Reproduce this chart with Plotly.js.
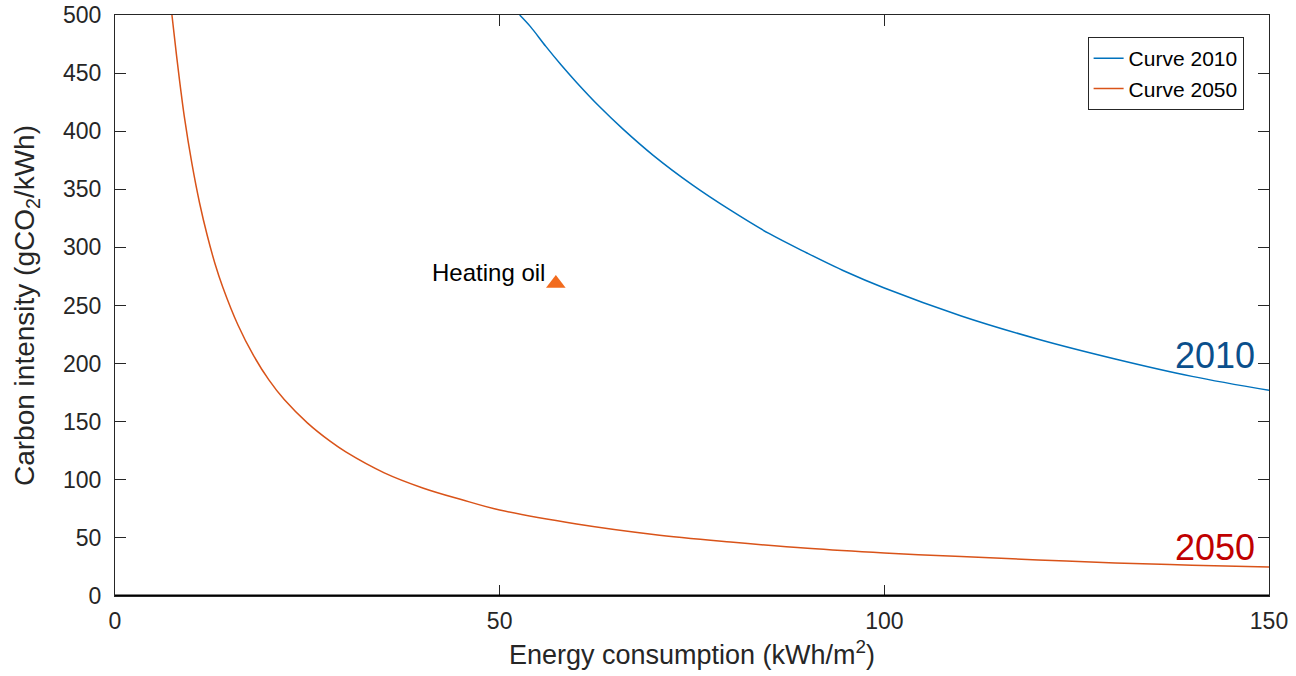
<!DOCTYPE html>
<html>
<head>
<meta charset="utf-8">
<script src="https://cdn.plot.ly/plotly-3.0.1.min.js"></script>
<style>html,body{margin:0;padding:0;background:#fff;}#chart{width:1296px;height:676px;}</style>
</head>
<body>
<div id="chart"></div>
<script>
// Curve 2010
const x2010 = [52.6, 54, 56, 58, 60, 63, 66, 70, 75, 80, 85, 90, 95, 100, 110, 120, 130, 140, 150];
const y2010 = [500, 490, 473, 457, 442, 421, 402, 379, 354, 332, 312, 295, 279, 265, 241, 221, 204, 189, 177];
// Curve 2050
const x2050 = [7.4, 8, 8.5, 9, 10, 11, 12, 13, 14, 16, 18, 20, 22, 25, 28, 30, 35, 40, 45, 50, 60, 70, 80, 90, 100, 110, 120, 130, 140, 150];
const y2050 = [500, 465, 438, 413, 372, 338, 310, 286, 266, 233, 207, 186, 169, 149, 133, 124, 106, 93, 83, 74, 62, 53, 46.5, 41, 37, 34, 31, 28.5, 26.5, 25];
// Heating oil point
const oilX = [57.3];
const oilY = [269];
const xTicks = [0, 50, 100, 150];
const yTicks = [0, 50, 100, 150, 200, 250, 300, 350, 400, 450, 500];

const font = 'Liberation Sans, Arial, Helvetica, sans-serif';
const axisColor = '#262626';

const traces = [
  {x: x2010, y: y2010, mode: 'lines', name: 'Curve 2010', line: {color: '#0072BD', width: 1.5, shape: 'spline'}},
  {x: x2050, y: y2050, mode: 'lines', name: 'Curve 2050', line: {color: '#D95319', width: 1.5, shape: 'spline'}},
  {x: oilX, y: oilY, mode: 'markers', showlegend: false, marker: {symbol: 'triangle-up', size: 17, color: '#F26B1D'}}
];

const axisCommon = {
  showline: true, mirror: 'ticks', linecolor: axisColor, linewidth: 1,
  ticks: 'inside', ticklen: 11, tickcolor: axisColor, tickwidth: 1,
  showgrid: false, zeroline: false,
  tickfont: {family: font, size: 23, color: axisColor}
};

const layout = {
  width: 1296, height: 676,
  margin: {l: 115, r: 27, t: 15, b: 80},
  paper_bgcolor: '#fff', plot_bgcolor: '#fff',
  font: {family: font, color: axisColor},
  xaxis: Object.assign({}, axisCommon, {
    range: [0, 150], tickvals: xTicks, ticktext: xTicks.map(String),
    ticklabelstandoff: 4,
    title: {text: 'Energy consumption (kWh/m<sup>2</sup>)', font: {family: font, size: 27, color: axisColor}, standoff: 12}
  }),
  yaxis: Object.assign({}, axisCommon, {
    range: [0, 500], tickvals: yTicks, ticktext: yTicks.map(String),
    ticklabelstandoff: 8,
    title: {text: 'Carbon intensity (gCO<sub>2</sub>/kWh)', font: {family: font, size: 28, color: axisColor}, standoff: 20}
  }),
  legend: {
    x: 0.978, y: 0.962, xanchor: 'right', yanchor: 'top',
    bgcolor: '#fff', bordercolor: axisColor, borderwidth: 1,
    font: {family: font, size: 21, color: '#000'},
    tracegroupgap: 0
  },
  shapes: [
    {type: 'line', xref: 'paper', yref: 'y', x0: 0, x1: 1, y0: 0, y1: 0, line: {color: '#000', width: 3}}
  ],
  annotations: [
    {x: 56.2, y: 278, xref: 'x', yref: 'y', text: 'Heating oil', showarrow: false, xanchor: 'right', yanchor: 'middle',
     font: {family: font, size: 24, color: '#000'}},
    {x: 148.5, y: 207, xref: 'x', yref: 'y', text: '2010', showarrow: false, xanchor: 'right', yanchor: 'middle',
     font: {family: font, size: 36, color: '#0B4F8C'}},
    {x: 148.5, y: 41.5, xref: 'x', yref: 'y', text: '2050', showarrow: false, xanchor: 'right', yanchor: 'middle',
     font: {family: font, size: 36, color: '#C00000'}}
  ]
};

Plotly.newPlot('chart', traces, layout, {displayModeBar: false, staticPlot: true});
</script>
</body>
</html>
